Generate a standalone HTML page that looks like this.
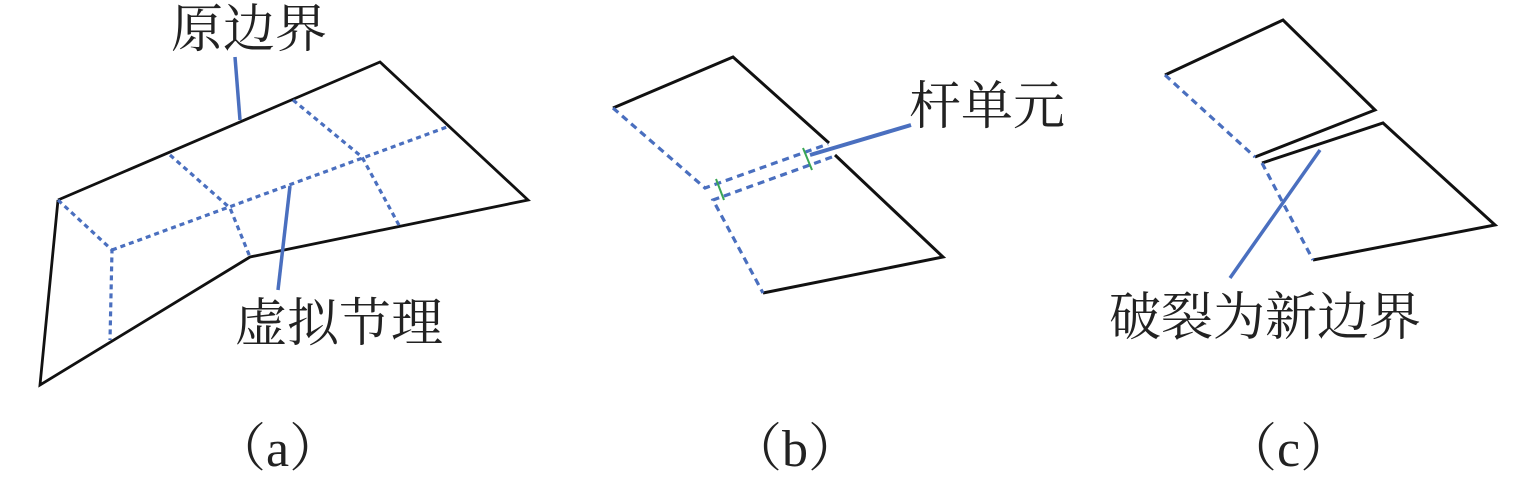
<!DOCTYPE html>
<html><head><meta charset="utf-8"><style>
body{margin:0;background:#fff;}
svg{display:block}
text{font-family:"Liberation Serif","Noto Serif CJK SC",serif;fill:#222;}
.cj{font-family:"Noto Serif CJK SC",serif;}
</style></head><body>
<svg width="1535" height="487" viewBox="0 0 1535 487" xmlns="http://www.w3.org/2000/svg">
<g fill="none" stroke-linejoin="miter">
<polyline points="58,200 380,62 528,200 250,257 40,385 58,200" stroke="#111" stroke-width="2.8"/>
<g stroke="#4a6fbf" stroke-width="3.2" stroke-dasharray="5,4">
<polyline points="58,200 112,250 110,340"/>
<line x1="112" y1="250" x2="447" y2="127"/>
<polyline points="170,155 230,208 250,257"/>
<polyline points="293,100 362,157 400,227"/>
</g>
<g stroke="#4a6fbf" stroke-width="3.5">
<line x1="235" y1="57" x2="240" y2="120"/>
<line x1="290" y1="186" x2="278" y2="290"/>
</g>
<polyline points="613,108 733,57 829,143" stroke="#111" stroke-width="3"/>
<polyline points="835,155 943,257 763,293" stroke="#111" stroke-width="3"/>
<g stroke="#4a6fbf" stroke-width="3.2" stroke-dasharray="7,5">
<polyline points="613,108 705,188 828,144"/>
<polyline points="832,157 713,200 763,293"/>
</g>
<g stroke="#3aa655" stroke-width="2">
<line x1="716" y1="179" x2="724" y2="200"/>
<line x1="803" y1="148" x2="812" y2="170"/>
</g>
<line x1="810" y1="155" x2="911" y2="125" stroke="#4a6fbf" stroke-width="4"/>
<polyline points="1165,75 1283,20 1375,110 1255,157" stroke="#111" stroke-width="3"/>
<line x1="1165" y1="75" x2="1255" y2="157" stroke="#4a6fbf" stroke-width="3.2" stroke-dasharray="7,5"/>
<polyline points="1262,163 1383,123 1495,225 1313,260" stroke="#111" stroke-width="3"/>
<line x1="1262" y1="163" x2="1313" y2="260" stroke="#4a6fbf" stroke-width="3.2" stroke-dasharray="7,5"/>
<line x1="1320" y1="150" x2="1230" y2="278" stroke="#4a6fbf" stroke-width="3.5"/>
</g>
<g font-size="52">
<text x="171" y="47">原边界</text>
<text x="235" y="341">虚拟节理</text>
<text x="909" y="124">杆单元</text>
<text x="1109" y="335">破裂为新边界</text>
<text x="214" y="466"><tspan class="cj">（</tspan>a<tspan class="cj">）</tspan></text>
<text x="730" y="466"><tspan class="cj">（</tspan>b<tspan class="cj">）</tspan></text>
<text x="1225" y="466"><tspan class="cj">（</tspan>c<tspan class="cj">）</tspan></text>
</g>
</svg>
</body></html>
